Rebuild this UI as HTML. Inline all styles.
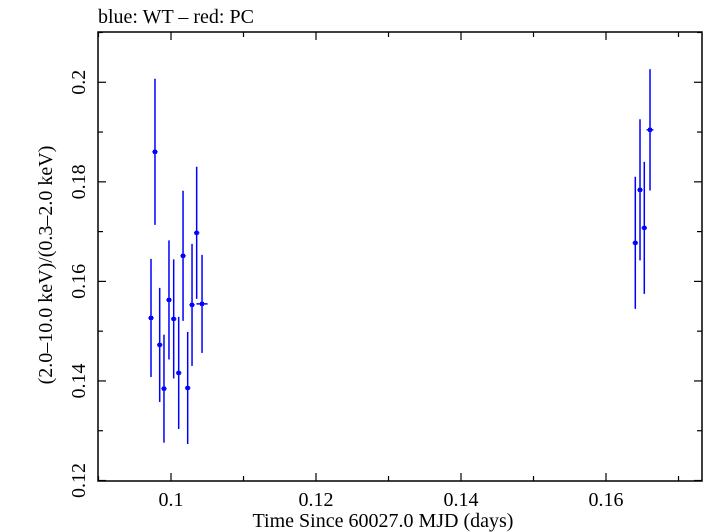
<!DOCTYPE html>
<html><head><meta charset="utf-8"><style>
body{margin:0;background:#fff;}
svg{display:block;font-family:"Liberation Serif",serif;}
</style></head><body>
<svg id="chart" width="705" height="532" viewBox="0 0 705 532">
<text x="98" y="23" font-size="20">blue: WT – red: PC</text>
<rect x="98" y="32" width="604" height="449" fill="none" stroke="#000" stroke-width="1.5"/>
<g id="ticks"></g>
<g id="marks"></g>
<text x="383" y="527" font-size="20" text-anchor="middle">Time Since 60027.0 MJD (days)</text>
<text transform="translate(52,265) rotate(-90)" font-size="20" text-anchor="middle">(2.0–10.0 keV)/(0.3–2.0 keV)</text>
</svg>
<script>
const xValues=[0.09724,0.09779,0.09844,0.09903,0.09972,0.10037,0.10106,0.10166,0.10230,0.10290,0.10354,0.10428,0.16404,0.16469,0.16528,0.16607];
const xErrors=[0.0003,0.0003,0.0003,0.0003,0.0003,0.0003,0.0003,0.0003,0.0003,0.0003,0.0003,0.0007,0.0003,0.0003,0.0003,0.0004];
const yValues=[0.15266,0.18603,0.14724,0.13845,0.15628,0.15246,0.14161,0.16513,0.13859,0.15528,0.16975,0.15548,0.16774,0.17839,0.17075,0.19045];
const yErrors=[0.01186,0.01467,0.01146,0.01085,0.01196,0.01196,0.01126,0.01307,0.01126,0.01226,0.01327,0.00985,0.01327,0.01417,0.01327,0.01218];
const xTickLabels=["0.1","0.12","0.14","0.16"];
const yTickLabels=["0.12","0.14","0.16","0.18","0.2"];
const X0=98,X1=702,Y0=481,Y1=32;
const xMin=0.08993,xMax=0.17324,yMin=0.11990,yMax=0.21010;
function sx(v){return X0+(v-xMin)/(xMax-xMin)*(X1-X0);}
function sy(v){return Y0-(v-yMin)/(yMax-yMin)*(Y0-Y1);}
const NS="http://www.w3.org/2000/svg";
function mk(tag,attrs,parent){const e=document.createElementNS(NS,tag);for(const k in attrs)e.setAttribute(k,attrs[k]);parent.appendChild(e);return e;}
const tg=document.getElementById('ticks');
for(let v=0.09;v<=0.1735;v+=0.01){
  const vv=Math.round(v*1000)/1000;
  if(vv<xMin||vv>xMax)continue;
  const major=Math.round(vv*100)%2===0;
  const L=major?8:5,x=sx(vv);
  const t1=mk('line',{x1:x,x2:x,y1:Y0,y2:Y0-L,stroke:'#000','stroke-width':1.2},tg);
  
  
  const t2=mk('line',{x1:x,x2:x,y1:Y1,y2:Y1+L,stroke:'#000','stroke-width':1.2},tg);
  
  
}
xTickLabels.forEach(s=>{
  const t=mk('text',{x:sx(parseFloat(s)),y:506,'font-size':20,'text-anchor':'middle'},tg);
  t.textContent=s;
  
  
});
for(let v=0.12;v<=0.2101;v+=0.01){
  const vv=Math.round(v*1000)/1000;
  const major=Math.round(vv*100)%2===0;
  const L=major?8:5,y=sy(vv);
  const t1=mk('line',{x1:X0,x2:X0+L,y1:y,y2:y,stroke:'#000','stroke-width':1.2},tg);
  
  
  const t2=mk('line',{x1:X1,x2:X1-L,y1:y,y2:y,stroke:'#000','stroke-width':1.2},tg);
  
  
}
yTickLabels.forEach(s=>{
  const y=sy(parseFloat(s));
  const t=mk('text',{transform:`translate(85,${y}) rotate(-90)`,'font-size':20,'text-anchor':'middle'},tg);
  t.textContent=s;
  
  
});
const mg=document.getElementById('marks');
xValues.forEach((xv,i)=>{
  const g=mk('g',{},mg);
  
  
  const x=sx(xv),y=sy(yValues[i]);
  mk('line',{x1:x,x2:x,y1:sy(yValues[i]+yErrors[i]),y2:sy(yValues[i]-yErrors[i]),stroke:'#0000ff','stroke-width':1.5},g);
  mk('line',{x1:sx(xv-xErrors[i])-0.5,x2:sx(xv+xErrors[i])+0.5,y1:y,y2:y,stroke:'#0000ff','stroke-width':1.5},g);
  mk('rect',{x:x-2,y:y-2,width:4,height:4,fill:'#0000ff'},g);
});
</script>
</body></html>
